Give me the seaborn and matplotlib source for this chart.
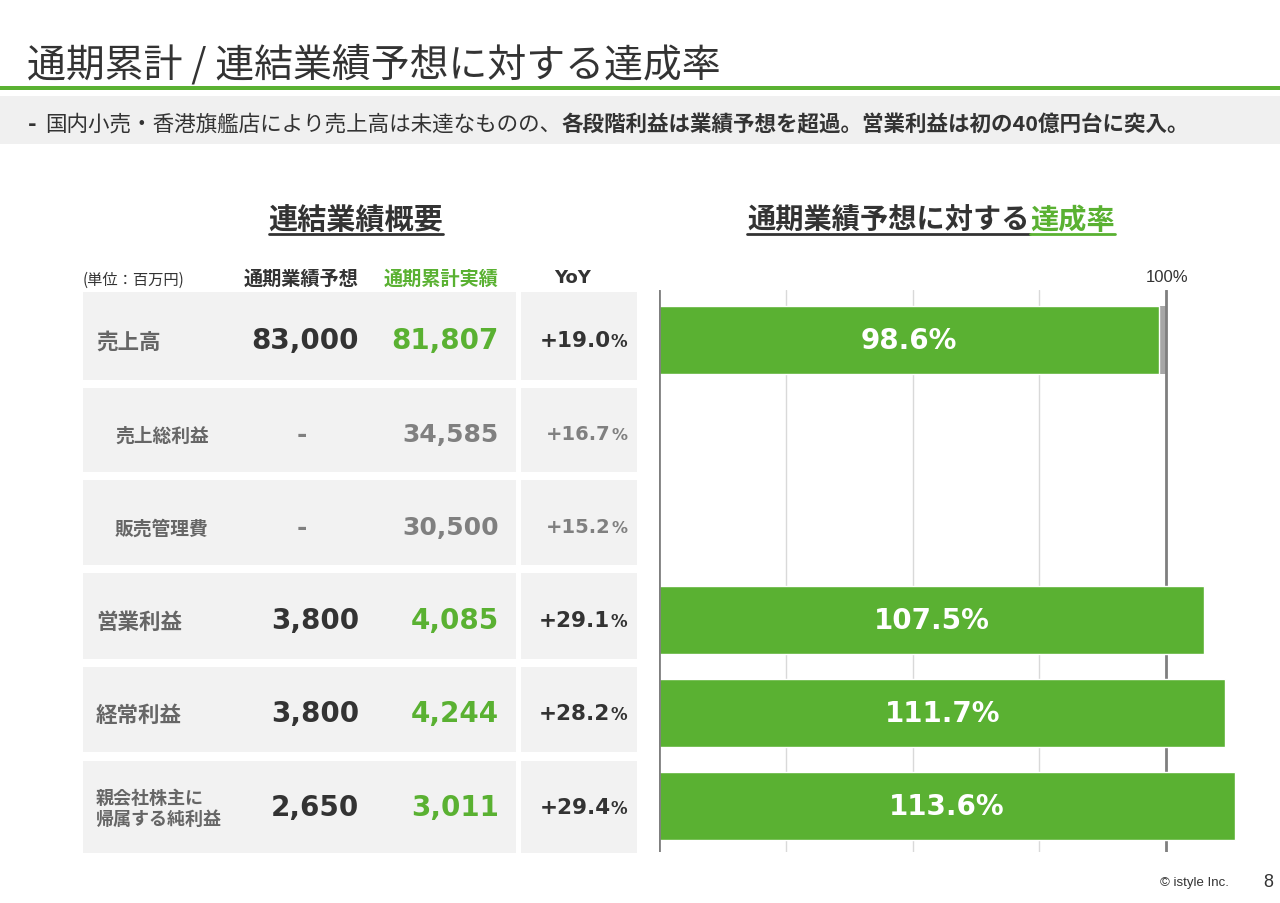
import matplotlib
matplotlib.use('Agg')
import matplotlib.pyplot as plt
import seaborn as sns
import pandas as pd
from matplotlib.patches import Rectangle

# ---------------- data ----------------
categories = ['売上高', '売上総利益', '販売管理費', '営業利益', '経常利益', '親会社株主に\n帰属する純利益']
forecast = [83000, None, None, 3800, 3800, 2650]
actual = [81807, 34585, 30500, 4085, 4244, 3011]
yoy = [19.0, 16.7, 15.2, 29.1, 28.2, 29.4]
achievement = [98.6, None, None, 107.5, 111.7, 113.6]
grid_ticks = [25, 50, 75]
ref_ticks = [0, 100]

title = '通期累計 / 連結業績予想に対する達成率'
sub_normal = '国内小売・香港旗艦店により売上高は未達なものの、'
sub_bold = '各段階利益は業績予想を超過。営業利益は初の40億円台に突入。'
left_header = '連結業績概要'
right_header_a = '通期業績予想に対する'
right_header_b = '達成率'
col_headers = ['(単位：百万円)', '通期業績予想', '通期累計実績', 'YoY']
footer = '© istyle Inc.'
page = '8'

# ---------------- style ----------------
GREEN = '#5ab132'
DARK = '#333333'
GREY_TXT = '#666666'
GREY_NUM = '#808080'
CELL = '#f2f2f2'

sns.set_theme(style='white')
JP = ['Noto Sans CJK JP', 'DejaVu Sans']
NUM = ['DejaVu Sans', 'Noto Sans CJK JP']
ARIAL = ['Liberation Sans', 'DejaVu Sans']
plt.rcParams['font.family'] = JP

fig = plt.figure(figsize=(12.8, 9.04), dpi=100)
bg = fig.add_axes([0, 0, 1, 1], zorder=0)
bg.set_xlim(0, 1280)
bg.set_ylim(904, 0)
bg.axis('off')
renderer = fig.canvas.get_renderer()


def width_px(t):
    return t.get_window_extent(renderer).width


# title + rule
bg.text(27, 65, title, fontsize=28, color=DARK, va='center', family=JP)
bg.add_patch(Rectangle((0, 87), 1280, 4, color=GREEN, lw=0))
bg.add_patch(Rectangle((0, 97), 1280, 48, color='#f0f0f0', lw=0))
bg.text(28, 125, '-', fontsize=15, fontweight='bold', color=DARK, va='center', family=NUM)
t1 = bg.text(45, 125, sub_normal, fontsize=15.5, color=DARK, va='center', family=JP)
w1 = width_px(t1)
bg.text(45 + w1, 125, sub_bold, fontsize=15.5, fontweight='bold', color=DARK, va='center', family=JP)

# section headers with underline
th = bg.text(356, 221, left_header, fontsize=21, fontweight='bold', color=DARK,
             ha='center', va='center', family=JP)
wh = width_px(th)
bg.plot([356 - wh / 2, 356 + wh / 2], [235, 235], color=DARK, lw=2)

ta = bg.text(0, 221, right_header_a, fontsize=20.3, fontweight='bold', color=DARK, va='center', family=JP)
tb = bg.text(0, 221, right_header_b, fontsize=20.3, fontweight='bold', color=GREEN, va='center', family=JP)
wa, wb = width_px(ta), width_px(tb)
x0 = 931 - (wa + wb) / 2
ta.set_x(x0)
tb.set_x(x0 + wa)
bg.plot([x0, x0 + wa], [235, 235], color=DARK, lw=2)
bg.plot([x0 + wa, x0 + wa + wb], [235, 235], color=GREEN, lw=2)

# column headers
bg.text(83, 280, col_headers[0], fontsize=11, color=DARK, va='center', family=JP)
bg.text(301, 279, col_headers[1], fontsize=13.8, fontweight='bold', color=DARK, ha='center', va='center', family=JP)
bg.text(441, 279, col_headers[2], fontsize=13.8, fontweight='bold', color=GREEN, ha='center', va='center', family=JP)
bg.text(573, 278, col_headers[3], fontsize=13, fontweight='bold', color=DARK, ha='center', va='center', family=NUM)

# table cells
cell_tops = [293, 389, 481, 574, 668, 762]
cell_bots = [381, 473, 566, 660, 753, 854]
text_y = [341, 435, 528, 621, 714, 808]
for top, bot in zip(cell_tops, cell_bots):
    bg.add_patch(Rectangle((83, top), 433, bot - top, color=CELL, lw=0))
    bg.add_patch(Rectangle((521, top), 116, bot - top, color=CELL, lw=0))

for cat, fc, ac, yy, y in zip(categories, forecast, actual, yoy, text_y):
    secondary = fc is None
    if secondary:
        bg.text(115, y + 1, cat, fontsize=13.5, fontweight='bold', color=GREY_TXT, va='center', family=JP)
        bg.text(302, y, '-', fontsize=18, fontweight='bold', color=GREY_NUM, ha='center', va='center', family=NUM)
        bg.text(499, y, f'{ac:,}', fontsize=18, fontweight='bold', color=GREY_NUM, ha='right', va='center', family=NUM)
        tp = bg.text(627, y + 1, '%', fontsize=11.5, fontweight='bold', color=GREY_NUM, ha='right', va='center', family=NUM)
        wp = width_px(tp)
        bg.text(627 - wp, y, f'+{yy:.1f}', fontsize=14, fontweight='bold', color=GREY_NUM, ha='right', va='center', family=NUM)
    else:
        fs = 13 if '\n' in cat else 15.5
        bg.text(96, y + 1, cat, fontsize=fs, fontweight='bold', color=GREY_TXT, va='center',
                linespacing=1.15, family=JP)
        bg.text(359, y, f'{fc:,}', fontsize=20, fontweight='bold', color=DARK, ha='right', va='center', family=NUM)
        bg.text(499, y, f'{ac:,}', fontsize=20, fontweight='bold', color=GREEN, ha='right', va='center', family=NUM)
        tp = bg.text(627, y + 1, '%', fontsize=12, fontweight='bold', color=DARK, ha='right', va='center', family=NUM)
        wp = width_px(tp)
        bg.text(627 - wp, y, f'+{yy:.1f}', fontsize=15.5, fontweight='bold', color=DARK, ha='right', va='center', family=NUM)

# footer
bg.text(1229, 883, footer, fontsize=9.5, color=DARK, ha='right', va='center', family=ARIAL)
bg.text(1268, 883, page, fontsize=13, color=DARK, ha='center', va='center', family=ARIAL)

# ---------------- bar chart ----------------
px_per_pct = 507 / 100
ax_left_px, ax_right_px, ax_top_px, ax_bot_px = 659, 1262, 291, 853
ax = fig.add_axes([ax_left_px / 1280, (904 - ax_bot_px) / 904,
                   (ax_right_px - ax_left_px) / 1280, (ax_bot_px - ax_top_px) / 904], zorder=1)
ax.patch.set_alpha(0)

df = pd.DataFrame({'cat': categories, 'rate': achievement}).dropna()
sns.barplot(data=df, x='rate', y='cat', order=categories, orient='h', color=GREEN,
            saturation=1, width=0.73, ax=ax, zorder=2)

# remainder up to 100%
for cat, v in zip(categories, achievement):
    if v is not None and v < 100:
        ax.barh(categories.index(cat), 100 - v, left=v + 0.15, height=0.73,
                color='#a6a6a6', zorder=1, lw=0)

for g in grid_ticks:
    ax.axvline(g, color='#d9d9d9', lw=1, zorder=0.5)
ax.axvline(ref_ticks[0], color='#7f7f7f', lw=2, zorder=3)
ax.axvline(ref_ticks[1], color='#7f7f7f', lw=2, zorder=1.5)

ax.set_xlim(0, (ax_right_px - ax_left_px) / px_per_pct)
pitch = 93.2
ax.set_ylim(5 + (ax_bot_px - 807) / pitch, -(341 - ax_top_px) / pitch)
for s in ax.spines.values():
    s.set_visible(False)
ax.set_xticks([])
ax.set_yticks([])
ax.set_xlabel('')
ax.set_ylabel('')

cont = ax.containers[0]
ax.bar_label(cont, labels=[f'{b.get_width():.1f}%' for b in cont], label_type='center',
             color='white', fontsize=20, fontweight='bold', family=NUM)

ax.annotate(f'{ref_ticks[1]}%', xy=(ref_ticks[1], 1), xycoords=('data', 'axes fraction'),
            xytext=(1, 4), textcoords='offset points', ha='center', va='bottom',
            fontsize=12, color=DARK, family=ARIAL)

fig.savefig('out.png', dpi=100)
